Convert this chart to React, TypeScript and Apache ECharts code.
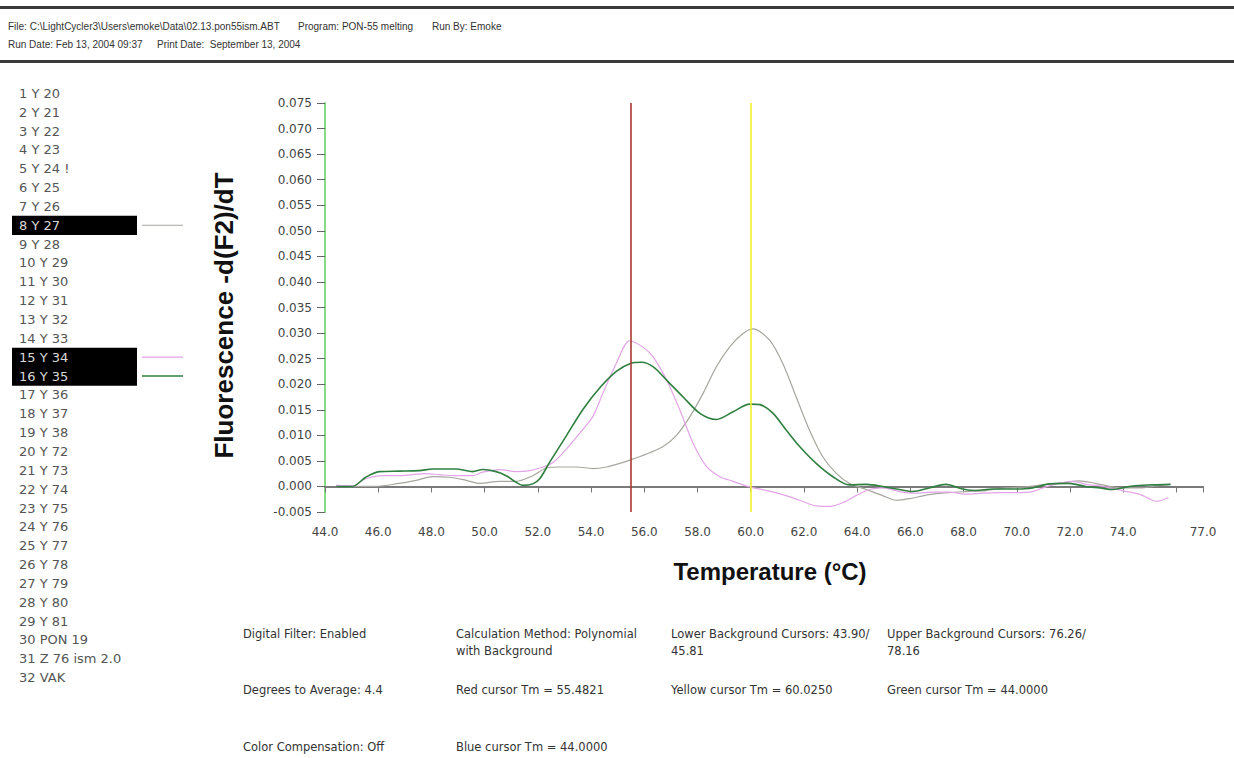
import React, { useEffect, useRef } from "react";
import * as echarts from "echarts";

// ---------- header / footer texts ----------
const headerRow1 = [
  "File: C:\\LightCycler3\\Users\\emoke\\Data\\02.13.pon55ism.ABT",
  "Program: PON-55 melting",
  "Run By: Emoke",
];
const headerRow2 = ["Run Date: Feb 13, 2004 09:37", "Print Date:  September 13, 2004"];

const infoRow1 = [
  ["Digital Filter: Enabled"],
  ["Calculation Method: Polynomial", "with Background"],
  ["Lower Background Cursors: 43.90/", "45.81"],
  ["Upper Background Cursors: 76.26/", "78.16"],
];
const infoRow2 = [
  "Degrees to Average: 4.4",
  "Red cursor Tm = 55.4821",
  "Yellow cursor Tm = 60.0250",
  "Green cursor Tm = 44.0000",
];
const infoRow3 = ["Color Compensation: Off", "Blue cursor Tm = 44.0000"];

// ---------- sample list ----------
const sampleNames = [
  "1 Y 20", "2 Y 21", "3 Y 22", "4 Y 23", "5 Y 24 !", "6 Y 25", "7 Y 26", "8 Y 27",
  "9 Y 28", "10 Y 29", "11 Y 30", "12 Y 31", "13 Y 32", "14 Y 33", "15 Y 34", "16 Y 35",
  "17 Y 36", "18 Y 37", "19 Y 38", "20 Y 72", "21 Y 73", "22 Y 74", "23 Y 75", "24 Y 76",
  "25 Y 77", "26 Y 78", "27 Y 79", "28 Y 80", "29 Y 81", "30 PON 19", "31 Z 76 ism 2.0", "32 VAK",
];
const selectedSamples = ["8 Y 27", "15 Y 34", "16 Y 35"];

// ---------- axes ----------
const xAxisName = "Temperature (°C)";
const yAxisName = "Fluorescence -d(F2)/dT";
const xMin = 44;
const xMax = 77;
const xStep = 2;
const yMin = -0.005;
const yMax = 0.075;
const yStep = 0.005;

// ---------- cursors ----------
const redCursorTm = 55.4821;
const yellowCursorTm = 60.025;

// ---------- curves (temperature °C, -d(F2)/dT) ----------
const grayTemps = [
  44.43, 45.03, 45.9, 46.79, 47.42, 48.05, 48.67, 49.3, 49.8, 50.56, 51.19, 51.81, 52.32, 52.82,
  53.45, 54.08, 54.58, 55.08, 55.59, 56.21, 56.71, 57.21, 57.71, 58.21, 58.71, 59.21, 59.71, 60.09,
  60.71, 61.21, 61.71, 62.21, 62.71, 63.21, 63.71, 64.34, 64.96, 65.46, 65.96, 66.71, 67.46, 68.09,
  68.84, 69.59, 70.34, 70.96, 71.84, 72.34, 72.96, 73.9, 74.65, 75.25, 75.78,
];
const grayValues = [
  0.0002, 0.0, 0.0, 0.0006, 0.0012, 0.0019, 0.0018, 0.0012, 0.0006, 0.001, 0.001, 0.0021, 0.0036, 0.0038,
  0.0038, 0.0035, 0.0038, 0.0045, 0.0054, 0.0066, 0.0078, 0.01, 0.0136, 0.0182, 0.0234, 0.0273, 0.0299, 0.0308,
  0.0286, 0.024, 0.0175, 0.011, 0.0058, 0.0026, 0.0006, -0.0006, -0.0018, -0.0027, -0.0024, -0.0016, -0.0012, -0.001,
  -0.0008, -0.0003, -0.0001, 0.0003, 0.0008, 0.0011, 0.0006, -0.0003, -0.0003, 0.0001, 0.0004,
];

const pinkTemps = [
  44.43, 45.03, 45.53, 46.16, 46.79, 47.79, 48.3, 48.92, 49.55, 49.93, 50.56, 51.19, 51.69, 52.19,
  52.57, 53.07, 53.7, 54.08, 54.45, 54.95, 55.46, 55.96, 56.34, 56.84, 57.34, 57.84, 58.34, 58.84,
  59.34, 59.96, 60.59, 61.21, 61.84, 62.46, 62.96, 63.46, 63.96, 64.46, 64.96, 65.59, 66.21, 66.84,
  67.46, 68.09, 68.71, 69.34, 69.96, 70.59, 71.21, 72.09, 72.71, 73.14, 74.05, 74.65, 75.25, 75.7,
];
const pinkValues = [
  0.0002, 0.0001, 0.0015, 0.0021, 0.0021, 0.0025, 0.0023, 0.0021, 0.0021, 0.0028, 0.0033, 0.0029, 0.0031, 0.0038,
  0.0047, 0.0073, 0.0112, 0.0138, 0.0183, 0.0241, 0.0285, 0.0272, 0.0253, 0.0208, 0.0149, 0.0084, 0.0039, 0.0019,
  0.001, -0.0001, -0.0008, -0.0016, -0.0027, -0.0038, -0.0039, -0.0032, -0.0018, -0.0006, -0.0003, -0.001, -0.0013, -0.0011,
  -0.0011, -0.0015, -0.0013, -0.0012, -0.0012, -0.001, 0.0001, 0.001, 0.0003, 0.0001, -0.0009, -0.0016, -0.0029, -0.0022,
];

const greenTemps = [
  44.43, 45.03, 45.53, 46.04, 46.79, 47.54, 48.05, 48.92, 49.55, 49.93, 50.43, 50.81, 51.19, 51.44,
  51.81, 52.07, 52.44, 53.07, 53.7, 54.33, 54.95, 55.5, 55.9, 56.34, 56.84, 57.46, 58.09, 58.71,
  59.34, 59.96, 60.34, 60.84, 61.34, 61.84, 62.46, 63.09, 63.71, 64.34, 64.96, 65.59, 66.09, 66.71,
  67.34, 67.96, 68.46, 69.09, 69.96, 70.59, 71.21, 71.96, 72.59, 73.14, 73.6, 74.35, 75.1, 75.78,
];
const greenValues = [
  0.0, 0.0, 0.0018, 0.0029, 0.003, 0.0031, 0.0034, 0.0034, 0.0029, 0.0033, 0.0029, 0.0021, 0.0008, 0.0002,
  0.0005, 0.0015, 0.0047, 0.0099, 0.0151, 0.0193, 0.0225, 0.0241, 0.0243, 0.0234, 0.0208, 0.0175, 0.0143, 0.0131,
  0.0146, 0.0161, 0.016, 0.0143, 0.011, 0.0078, 0.0045, 0.0019, 0.0003, 0.0004, 0.0, -0.0006, -0.001, -0.0003,
  0.0004, -0.0005, -0.0008, -0.0005, -0.0005, -0.0003, 0.0005, 0.0006, 0.0, -0.0003, -0.0006, 0.0001, 0.0003, 0.0004,
];

const zip = (xs: number[], ys: number[]) => xs.map((x, i) => [x, ys[i]]);

const seriesColors: Record<string, string> = {
  "8 Y 27": "#a6a69e",
  "15 Y 34": "#e2a4e6",
  "16 Y 35": "#2f8040",
};

export default function App() {
  const ref = useRef<HTMLDivElement>(null);

  useEffect(() => {
    if (!ref.current) return;
    const chart = echarts.init(ref.current, null, { renderer: "svg" });

    const graphics: any[] = [];
    // header rules
    graphics.push({ type: "rect", shape: { x: 0, y: 6, width: 1234, height: 3 }, style: { fill: "#3a3a3a" } });
    graphics.push({ type: "rect", shape: { x: 0, y: 60, width: 1234, height: 3 }, style: { fill: "#3a3a3a" } });
    const headerFont = '10px "Liberation Sans"';
    const h1x = [8, 298, 432];
    headerRow1.forEach((t, i) =>
      graphics.push({ type: "text", x: h1x[i], y: 26, style: { text: t, font: headerFont, fill: "#333", verticalAlign: "middle" } })
    );
    const h2x = [8, 157];
    headerRow2.forEach((t, i) =>
      graphics.push({ type: "text", x: h2x[i], y: 44, style: { text: t, font: headerFont, fill: "#333", verticalAlign: "middle" } })
    );

    // sample list
    const rowH = 18.85;
    const row0 = 93.3;
    sampleNames.forEach((name, i) => {
      const cy = row0 + i * rowH;
      const sel = selectedSamples.includes(name);
      if (sel) {
        graphics.push({ type: "rect", shape: { x: 12, y: cy - rowH / 2, width: 125, height: rowH + 0.3 }, style: { fill: "#000" } });
        graphics.push({
          type: "line",
          shape: { x1: 142, y1: cy, x2: 183, y2: cy },
          style: { stroke: seriesColors[name], lineWidth: name === "16 Y 35" ? 1.6 : 1.2 },
        });
      }
      graphics.push({
        type: "text",
        x: 19,
        y: cy,
        z: 10,
        style: { text: name, font: '13px "DejaVu Sans"', fill: sel ? "#d8d8d8" : "#555", verticalAlign: "middle" },
      });
    });

    // info block
    const colX = [243, 456, 671, 887];
    const infoFont = '11.5px "DejaVu Sans"';
    infoRow1.forEach((lines, i) =>
      lines.forEach((t, j) =>
        graphics.push({ type: "text", x: colX[i], y: 634 + j * 17, style: { text: t, font: infoFont, fill: "#333", verticalAlign: "middle" } })
      )
    );
    infoRow2.forEach((t, i) =>
      graphics.push({ type: "text", x: colX[i], y: 690, style: { text: t, font: infoFont, fill: "#333", verticalAlign: "middle" } })
    );
    infoRow3.forEach((t, i) =>
      graphics.push({ type: "text", x: colX[i], y: 747, style: { text: t, font: infoFont, fill: "#333", verticalAlign: "middle" } })
    );

    const mkSeries = (name: string, xs: number[], ys: number[], width: number, extra: any = {}) => ({
      type: "line",
      name,
      data: zip(xs, ys),
      symbol: "none",
      smooth: 0.3,
      lineStyle: { color: seriesColors[name], width },
      ...extra,
    });

    chart.setOption({
      animation: false,
      backgroundColor: "#fff",
      grid: { left: 325, right: 31, top: 103, bottom: 246, containLabel: false },
      xAxis: {
        type: "value",
        min: xMin,
        max: xMax,
        interval: xStep,
        name: xAxisName,
        nameLocation: "middle",
        nameGap: 47,
        nameTextStyle: { fontFamily: "Liberation Sans", fontWeight: "bold", fontSize: 24, color: "#111", padding: [0, 0, 0, 12] },
        axisLine: { lineStyle: { color: "#7a7a7a", width: 2 } },
        axisTick: { show: true, length: 6, lineStyle: { color: "#777" } },
        axisLabel: {
          margin: 14,
          fontFamily: "DejaVu Sans",
          fontSize: 12,
          color: "#444",
          formatter: (v: number) => (v === 76 ? "" : v.toFixed(1)),
        },
        splitLine: { show: false },
      },
      yAxis: {
        type: "value",
        min: yMin,
        max: yMax,
        interval: yStep,
        name: yAxisName,
        nameLocation: "middle",
        nameGap: 88,
        nameTextStyle: { fontFamily: "Liberation Sans", fontWeight: "bold", fontSize: 26, color: "#111", padding: [0, 16, 0, 0] },
        axisLine: { lineStyle: { color: "#86dc86", width: 2 } },
        axisTick: { show: true, length: 8, lineStyle: { color: "#666" } },
        axisLabel: {
          margin: 13,
          fontFamily: "DejaVu Sans",
          fontSize: 12,
          color: "#444",
          formatter: (v: number) => v.toFixed(3),
        },
        splitLine: { show: false },
      },
      series: [
        mkSeries("8 Y 27", grayTemps, grayValues, 1.2, {
          markLine: {
            silent: true,
            symbol: "none",
            label: { show: false },
            data: [
              { xAxis: redCursorTm, lineStyle: { color: "#a83a30", width: 1.6, type: "solid" } },
              { xAxis: yellowCursorTm, lineStyle: { color: "#f2f22a", width: 1.6, type: "solid" } },
            ],
          },
        }),
        mkSeries("15 Y 34", pinkTemps, pinkValues, 1.2),
        mkSeries("16 Y 35", greenTemps, greenValues, 1.6),
      ],
      graphic: graphics,
    });

    return () => chart.dispose();
  }, []);

  return (
    <div
      ref={ref}
      style={{ position: "fixed", left: 0, top: 0, width: 1234, height: 758, background: "#fff" }}
    />
  );
}
